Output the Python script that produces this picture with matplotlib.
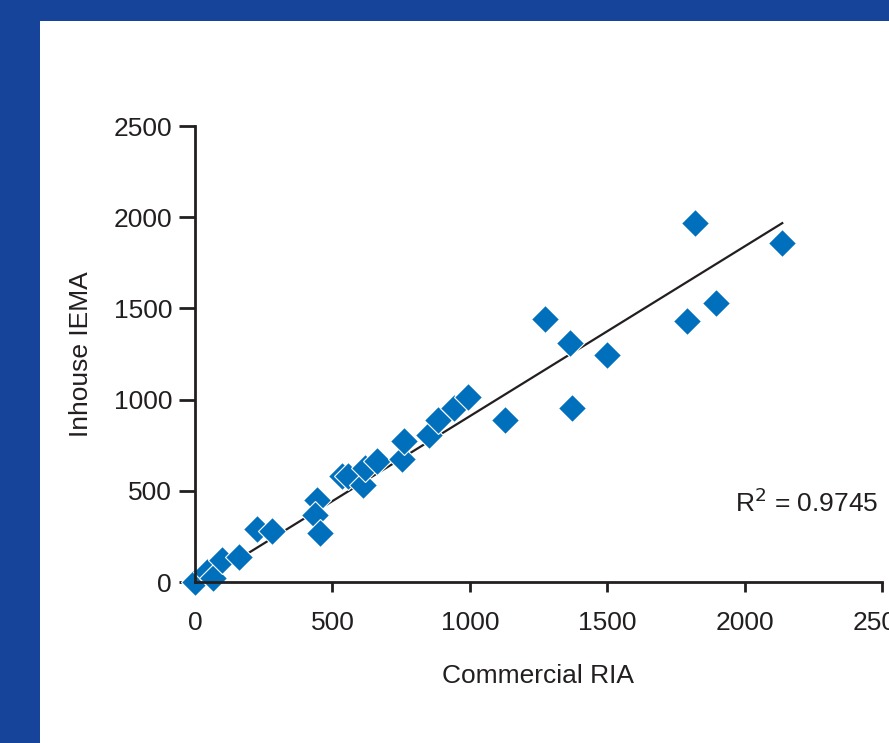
import matplotlib
matplotlib.use('Agg')
import matplotlib.pyplot as plt
from matplotlib.patches import Rectangle
import numpy as np

# values
commercial_ria = [0, 44, 66, 98, 160, 225, 279, 443, 437, 455,
                  534, 558, 613, 619, 662, 753, 761, 850, 886, 941,
                  994, 1129, 1272, 1366, 1372, 1501, 1791, 1821, 1897, 2137]
inhouse_iema = [0, 55, 22, 121, 137, 289, 281, 450, 367, 267,
                581, 581, 532, 625, 663, 673, 775, 806, 888, 952,
                1014, 888, 1440, 1312, 952, 1245, 1431, 1970, 1531, 1860]

fit_slope = 0.931
fit_intercept = -22
r_squared = '0.9745'

x_ticks = [0, 500, 1000, 1500, 2000, 2500]
y_ticks = [0, 500, 1000, 1500, 2000, 2500]

plt.rcParams['font.family'] = ['Liberation Sans', 'DejaVu Sans']
txt = '#231f20'

fig = plt.figure(figsize=(8.89, 7.43), dpi=100)
fig.patch.set_facecolor('#15449a')
fig.patches.append(Rectangle((40 / 889, 0), 1, 1 - 21 / 743, transform=fig.transFigure,
                             facecolor='white', edgecolor='none', zorder=-10))

ax = fig.add_axes([195 / 889, 161 / 743, 687 / 889, 456 / 743])
ax.set_facecolor('none')

xs = np.array([0, max(commercial_ria)])
ax.plot(xs, fit_slope * xs + fit_intercept, color=txt, lw=1.6, zorder=2, clip_on=False)
ax.plot(commercial_ria, inhouse_iema, 'D', ms=14.5, color='#0070bd',
        mec='white', mew=0.8, zorder=3, clip_on=False)

ax.set_xlim(0, 2500)
ax.set_ylim(0, 2500)
ax.set_xticks(x_ticks)
ax.set_yticks(y_ticks)

for s in ['top', 'right']:
    ax.spines[s].set_visible(False)
for s in ['left', 'bottom']:
    ax.spines[s].set_linewidth(2)
    ax.spines[s].set_color(txt)
    ax.spines[s].set_zorder(4)

ax.tick_params(axis='x', length=7, width=2, color=txt, labelcolor=txt, labelsize=19, pad=14)
ax.tick_params(axis='y', length=11.5, width=2, color=txt, labelcolor=txt, labelsize=19, pad=5)

ax.set_xlabel('Commercial RIA', fontsize=19, color=txt, labelpad=21)
ax.set_ylabel('Inhouse IEMA', fontsize=19, color=txt, labelpad=15)

ax.text(1966, 433, 'R$^2$ = ' + r_squared, fontsize=19, color=txt, ha='left', va='center')

fig.savefig('out.png', dpi=100, facecolor=fig.get_facecolor())
